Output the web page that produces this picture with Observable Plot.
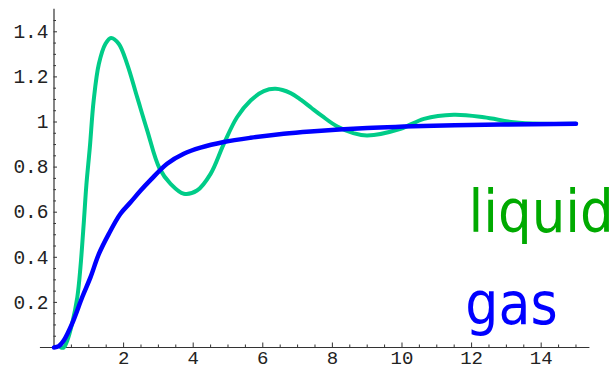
<!DOCTYPE html>
<html>
<head>
<meta charset="utf-8">
<script src="https://cdn.jsdelivr.net/npm/d3@7"></script>
<script src="https://cdn.jsdelivr.net/npm/@observablehq/plot@0.6"></script>
<style>
  html, body { margin: 0; padding: 0; background: #fff; }
</style>
</head>
<body>
<div id="chart"></div>
<script>
// Liquid g(r)
const liquidR = [0.2, 0.28, 0.38, 0.52, 0.67, 0.76, 0.86, 0.93, 1.03, 1.14, 1.29, 1.48, 1.64, 1.86, 2.10, 2.39, 2.68, 3.03, 3.35, 3.73, 4.11, 4.5, 4.88, 5.26, 5.65, 6.03, 6.37, 6.8, 7.1, 7.4, 7.7, 8.14, 8.6, 9.0, 9.96, 10.63, 11.49, 12.35, 13.21, 13.98, 15];
const liquidG = [0, 0, 0.03, 0.106, 0.223, 0.356, 0.563, 0.72, 0.888, 1.095, 1.258, 1.347, 1.373, 1.347, 1.258, 1.11, 0.962, 0.795, 0.726, 0.682, 0.696, 0.770, 0.903, 1.021, 1.095, 1.137, 1.147, 1.128, 1.098, 1.062, 1.027, 0.980, 0.951, 0.940, 0.970, 1.014, 1.032, 1.021, 0.999, 0.992, 0.992];
// Gas g(r)
const gasR = [0, 0.14, 0.28, 0.52, 0.81, 1.05, 1.29, 1.575, 1.91, 2.2, 2.49, 2.77, 3.25, 3.73, 4.21, 4.88, 5.65, 6.6, 7.37, 9.0, 10.91, 12.83, 15];
const gasG = [0, 0.006, 0.031, 0.106, 0.223, 0.312, 0.415, 0.504, 0.593, 0.644, 0.696, 0.742, 0.815, 0.859, 0.886, 0.911, 0.930, 0.948, 0.958, 0.973, 0.983, 0.989, 0.992];

const seriesNames = ["liquid", "gas"];
const xTicks = [2, 4, 6, 8, 10, 12, 14];
const xTickLabels = ["2", "4", "6", "8", "10", "12", "14"];
const yTicks = [0.2, 0.4, 0.6, 0.8, 1, 1.2, 1.4];
const yTickLabels = ["0.2", "0.4", "0.6", "0.8", "1", "1.2", "1.4"];

const liquid = liquidR.map((r, i) => ({r, g: liquidG[i]}));
const gas = gasR.map((r, i) => ({r, g: gasG[i]}));

const xMinor = d3.range(0.5, 15.01, 0.5).filter(v => !xTicks.includes(v));
const yMinor = d3.range(1, 30).map(k => k * 0.05).filter(v => !yTicks.some(t => Math.abs(t - v) < 1e-9));

const axisColor = "#333";
const monoFont = "'Liberation Mono', 'Courier New', monospace";
const labelFont = "'DejaVu Sans Condensed', 'DejaVu Sans', sans-serif";

const chart = Plot.plot({
  width: 615,
  height: 370,
  marginLeft: 53.5,
  marginRight: 25.6,
  marginTop: 8.75,
  marginBottom: 23,
  x: {domain: [0, 15.4], axis: null},
  y: {domain: [0, 1.5], axis: null},
  style: {fontFamily: monoFont, background: "white"},
  marks: [
    // axis lines
    Plot.ruleY([0], {x1: -0.39, x2: 15.4, stroke: axisColor, strokeWidth: 1.2}),
    Plot.ruleX([0], {y1: 0, y2: 1.5, stroke: axisColor, strokeWidth: 1.2}),
    // inward ticks
    Plot.axisX({ticks: xTicks, tickSize: -4.5, fill: "none", stroke: axisColor, label: null}),
    Plot.axisX({ticks: xMinor, tickSize: -2.5, fill: "none", stroke: axisColor, label: null}),
    Plot.axisY({ticks: yTicks, tickSize: -3.5, fill: "none", stroke: axisColor, label: null}),
    Plot.axisY({ticks: yMinor, tickSize: -2.5, fill: "none", stroke: axisColor, label: null}),
    // tick labels
    Plot.axisX({ticks: xTicks, tickSize: 0, tickPadding: 3, tickFormat: d => xTickLabels[xTicks.indexOf(d)],
      fontSize: 19, fontFamily: monoFont, fill: "#222", label: null}),
    Plot.axisY({ticks: yTicks, tickSize: 0, tickPadding: 5.5, tickFormat: d => yTickLabels[yTicks.indexOf(d)],
      fontSize: 19.5, fontFamily: monoFont, fill: "#222", label: null}),
    // curves
    Plot.line(liquid, {x: "r", y: "g", stroke: "#00CC88", strokeWidth: 4, curve: "catmull-rom", strokeLinecap: "round"}),
    Plot.line(gas, {x: "r", y: "g", stroke: "#0000FF", strokeWidth: 4.5, curve: "catmull-rom", strokeLinecap: "round"}),
    // series labels
    Plot.text([seriesNames[0]], {x: 11.91, y: 0.51, text: d => d, textAnchor: "start", lineAnchor: "bottom",
      fill: "#00AA00", fontSize: 59, fontFamily: labelFont}),
    Plot.text([seriesNames[1]], {x: 11.82, y: 0.104, text: d => d, textAnchor: "start", lineAnchor: "bottom",
      fill: "#0000FF", fontSize: 58, fontFamily: labelFont})
  ]
});
document.getElementById("chart").appendChild(chart);
</script>
</body>
</html>
